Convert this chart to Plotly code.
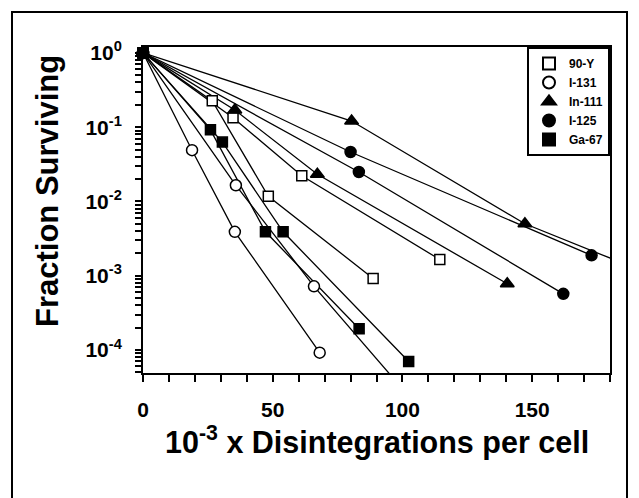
import numpy as np
import plotly.graph_objects as go

# ---------------- data ----------------
y90_a_x = [0, 26.7, 48.3, 88.7]
y90_a_y = [1.0, 0.226, 0.0117, 9.2e-4]
y90_b_x = [0, 34.7, 61.2, 114.4]
y90_b_y = [1.0, 0.134, 0.0222, 1.65e-3]

i131_a_x = [0, 18.9, 35.4, 68.1]
i131_a_y = [1.0, 0.049, 3.9e-3, 9.2e-5]
i131_b_x = [0, 35.8, 65.9, 100.0]
i131_b_y = [1.0, 0.0165, 7.2e-4, 3.0e-5]

in111_a_x = [0, 80.4, 147.2, 190.0]
in111_a_y = [1.0, 0.121, 5.0e-3, 1.25e-3]
in111_b_x = [0, 35.4, 67.2, 140.4]
in111_b_y = [1.0, 0.17, 0.0232, 7.8e-4]

i125_a_x = [0, 80.0, 172.9]
i125_a_y = [1.0, 0.0463, 1.88e-3]
i125_b_x = [0, 83.2, 162.0]
i125_b_y = [1.0, 0.0249, 5.7e-4]

ga67_a_x = [0, 26.0, 47.2, 83.3]
ga67_a_y = [1.0, 0.092, 3.9e-3, 1.93e-4]
ga67_b_x = [0, 30.6, 54.0, 102.4]
ga67_b_y = [1.0, 0.063, 3.9e-3, 7.0e-5]

legend_names = ["90-Y", "I-131", "In-111", "I-125", "Ga-67"]
x_label_vals = [0, 50, 100, 150]
y_label_exps = [0, -1, -2, -3, -4]
x_title = "10<sup>-3</sup> x Disintegrations per cell"
y_title = "Fraction Surviving"

# ---------------- styles ----------------
X_RANGE = [0, 180]
Y_RANGE = [np.log10(4.9e-5), np.log10(1.2)]
FONT = "Arial, 'Liberation Sans', Helvetica, sans-serif"

styles = {
    "90-Y": dict(symbol="square", color="white", size=10),
    "I-131": dict(symbol="circle", color="white", size=11),
    "In-111": dict(symbol="triangle-up", color="black", size=12),
    "I-125": dict(symbol="circle", color="black", size=11),
    "Ga-67": dict(symbol="square", color="black", size=10),
}

series = [
    ("90-Y", y90_a_x, y90_a_y), ("90-Y", y90_b_x, y90_b_y),
    ("I-131", i131_a_x, i131_a_y), ("I-131", i131_b_x, i131_b_y),
    ("In-111", in111_a_x, in111_a_y), ("In-111", in111_b_x, in111_b_y),
    ("I-125", i125_a_x, i125_a_y), ("I-125", i125_b_x, i125_b_y),
    ("Ga-67", ga67_a_x, ga67_a_y), ("Ga-67", ga67_b_x, ga67_b_y),
]

fig = go.Figure()

# connecting lines first
for name, xs, ys in series:
    fig.add_trace(go.Scatter(x=xs, y=ys, mode="lines",
                             line=dict(color="black", width=1.3),
                             showlegend=False, hoverinfo="skip"))

# markers on top (open symbols first, filled ones last)
for nm in legend_names:
    for name, xs, ys in series:
        if name != nm:
            continue
        xa, ya = np.array(xs, float), np.array(ys, float)
        keep = (xa <= X_RANGE[1]) & (np.log10(ya) >= Y_RANGE[0])
        st = styles[name]
        fig.add_trace(go.Scatter(
            x=xa[keep], y=ya[keep], mode="markers", cliponaxis=False,
            marker=dict(symbol=st["symbol"], size=st["size"], color=st["color"],
                        line=dict(color="black", width=1.5)),
            showlegend=False))

# legend entries (markers only)
for nm in legend_names:
    st = styles[nm]
    fig.add_trace(go.Scatter(
        x=[None], y=[None], mode="markers", name=nm,
        marker=dict(symbol=st["symbol"], size=st["size"], color=st["color"],
                    line=dict(color="black", width=1.5))))

W, H = 639, 498
L, R, T, B = 143, 29, 47, 125
pw, ph = W - L - R, H - T - B


def px_to_paper_x(px):
    return (px - L) / pw


def px_to_paper_y(py):
    return 1 - (py - T) / ph


x_ticks = list(range(0, 181, 10))
x_text = [str(v) if v in x_label_vals else "" for v in x_ticks]

y_ticks, y_text = [], []
for e in range(-5, 1):
    for k in range(1, 10):
        v = k * 10.0 ** e
        if np.log10(v) < Y_RANGE[0] or np.log10(v) > Y_RANGE[1]:
            continue
        y_ticks.append(v)
        y_text.append(f"10<sup>{e}</sup>" if (k == 1 and e in y_label_exps) else "")

fig.update_layout(
    width=W, height=H,
    margin=dict(l=L, r=R, t=T, b=B, pad=0),
    paper_bgcolor="white", plot_bgcolor="white",
    font=dict(family=FONT, color="black"),
    showlegend=True,
    legend=dict(x=1, y=1, xanchor="right", yanchor="top",
                bgcolor="white", bordercolor="black", borderwidth=2,
                font=dict(family=FONT, size=12, weight="bold", color="black"),
                itemsizing="constant", tracegroupgap=0),
    xaxis=dict(range=X_RANGE, tickmode="array", tickvals=x_ticks, ticktext=x_text,
               ticks="outside", ticklen=7, tickwidth=1.8, tickcolor="black",
               showline=True, linewidth=2, linecolor="black", mirror=True,
               showgrid=False, zeroline=False,
               tickfont=dict(family=FONT, size=21, weight="bold"),
               ticklabelstandoff=10),
    yaxis=dict(type="log", range=Y_RANGE, tickmode="array",
               tickvals=y_ticks, ticktext=y_text,
               ticks="outside", ticklen=6, tickwidth=1.8, tickcolor="black",
               showline=True, linewidth=2, linecolor="black", mirror=True,
               showgrid=False, zeroline=False,
               tickfont=dict(family=FONT, size=21, weight="bold"),
               ticklabelstandoff=9),
    annotations=[
        dict(text=y_title, xref="paper", yref="paper",
             x=px_to_paper_x(47), y=px_to_paper_y(191), textangle=-90,
             xanchor="center", yanchor="middle", showarrow=False,
             font=dict(family=FONT, size=31, weight="bold")),
        dict(text=x_title, xref="paper", yref="paper",
             x=px_to_paper_x(377), y=px_to_paper_y(440),
             xanchor="center", yanchor="middle", showarrow=False,
             font=dict(family=FONT, size=30.5, weight="bold")),
    ],
    shapes=[dict(type="rect", xref="paper", yref="paper",
                 x0=px_to_paper_x(12), x1=px_to_paper_x(627),
                 y0=px_to_paper_y(560), y1=px_to_paper_y(12),
                 line=dict(color="black", width=2), fillcolor="rgba(0,0,0,0)",
                 layer="below")],
)

fig.write_html("out.html")
